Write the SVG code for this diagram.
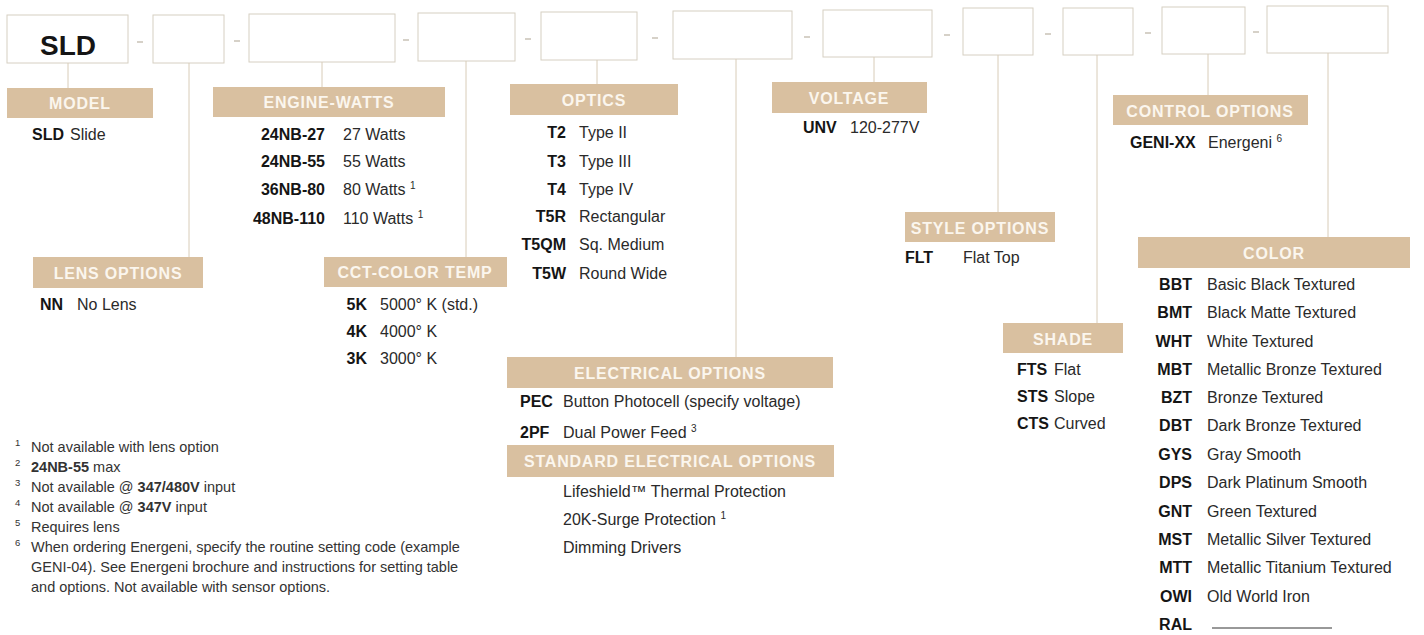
<svg xmlns="http://www.w3.org/2000/svg" width="1424" height="635" viewBox="0 0 1424 635">
<style>
.box{fill:#fff;stroke:#d6cfc2;stroke-width:1}
.dash{stroke:#c9c2b6;stroke-width:1.5}
.hdr{fill:#d9c0a0}
.ht{font-family:'Liberation Sans',Arial,sans-serif;font-weight:bold;font-size:16px;fill:#fbf6ee;letter-spacing:0.8px;text-anchor:middle}
.t{font-family:'Liberation Sans',Arial,sans-serif;font-size:16px;fill:#2a2a2a}
.c{font-family:'Liberation Sans',Arial,sans-serif;font-size:16px;font-weight:bold;fill:#151515}
.e{text-anchor:end}
.sup{font-size:10px}
.fn{font-family:'Liberation Sans',Arial,sans-serif;font-size:14.5px;fill:#333}
.fs{font-family:'Liberation Sans',Arial,sans-serif;font-size:9.5px;fill:#333}
.con line{stroke:#d8ccb8;stroke-width:1}
</style>
<rect width="1424" height="635" fill="#fff"/>

<g id="boxes">
<rect class="box" x="7" y="15" width="121" height="48"/>
<text x="68" y="55" font-family="'Liberation Sans',Arial,sans-serif" font-weight="bold" font-size="28" fill="#151515" text-anchor="middle">SLD</text>
<rect class="box" x="153" y="15" width="71" height="48"/>
<rect class="box" x="249" y="14" width="146" height="48"/>
<rect class="box" x="418" y="13" width="97" height="48"/>
<rect class="box" x="541" y="12" width="96" height="48"/>
<rect class="box" x="673" y="11" width="119" height="48"/>
<rect class="box" x="823" y="10" width="109" height="47"/>
<rect class="box" x="963" y="8" width="70" height="47"/>
<rect class="box" x="1063" y="8" width="70" height="47"/>
<rect class="box" x="1162" y="7" width="83" height="47"/>
<rect class="box" x="1267" y="6" width="121" height="47"/>
<line class="dash" x1="137" y1="42" x2="143" y2="42"/>
<line class="dash" x1="234" y1="41" x2="240" y2="41"/>
<line class="dash" x1="403" y1="40" x2="409" y2="40"/>
<line class="dash" x1="525" y1="39" x2="531" y2="39"/>
<line class="dash" x1="652" y1="38" x2="658" y2="38"/>
<line class="dash" x1="804" y1="37" x2="810" y2="37"/>
<line class="dash" x1="944" y1="35" x2="950" y2="35"/>
<line class="dash" x1="1045" y1="34" x2="1051" y2="34"/>
<line class="dash" x1="1145" y1="33" x2="1151" y2="33"/>
<line class="dash" x1="1253" y1="32" x2="1259" y2="32"/>
</g>

<g class="con" id="connectors">
<line x1="68" y1="63" x2="68" y2="88"/>
<line x1="189" y1="63" x2="189" y2="257"/>
<line x1="322" y1="62" x2="322" y2="87"/>
<line x1="466" y1="61" x2="466" y2="257"/>
<line x1="597" y1="60" x2="597" y2="84"/>
<line x1="736" y1="59" x2="736" y2="357"/>
<line x1="874" y1="57" x2="874" y2="82"/>
<line x1="998" y1="55" x2="998" y2="212"/>
<line x1="1097" y1="55" x2="1097" y2="323"/>
<line x1="1208" y1="54" x2="1208" y2="95"/>
<line x1="1328" y1="53" x2="1328" y2="237"/>
</g>

<g id="model">
<rect class="hdr" x="7" y="88" width="146" height="30"/>
<text class="ht" x="80" y="109">MODEL</text>
<text class="c" x="32" y="140">SLD</text><text class="t" x="70" y="140">Slide</text>
</g>

<g id="lens">
<rect class="hdr" x="33" y="257" width="170" height="31"/>
<text class="ht" x="118" y="279">LENS OPTIONS</text>
<text class="c" x="40" y="310">NN</text><text class="t" x="77" y="310">No Lens</text>
</g>

<g id="engine">
<rect class="hdr" x="213" y="87" width="232" height="30"/>
<text class="ht" x="329" y="108">ENGINE-WATTS</text>
<text class="c e" x="325" y="140">24NB-27</text><text class="t" x="343" y="140">27 Watts</text>
<text class="c e" x="325" y="167">24NB-55</text><text class="t" x="343" y="167">55 Watts</text>
<text class="c e" x="325" y="195">36NB-80</text><text class="t" x="343" y="195">80 Watts <tspan class="sup" dy="-6">1</tspan></text>
<text class="c e" x="325" y="224">48NB-110</text><text class="t" x="343" y="224">110 Watts <tspan class="sup" dy="-6">1</tspan></text>
</g>

<g id="cct">
<rect class="hdr" x="324" y="257" width="183" height="30"/>
<text class="ht" x="415" y="278">CCT-COLOR TEMP</text>
<text class="c e" x="367" y="310">5K</text><text class="t" x="380" y="310">5000° K (std.)</text>
<text class="c e" x="367" y="337">4K</text><text class="t" x="380" y="337">4000° K</text>
<text class="c e" x="367" y="364">3K</text><text class="t" x="380" y="364">3000° K</text>
</g>

<g id="optics">
<rect class="hdr" x="510" y="84" width="168" height="31"/>
<text class="ht" x="594" y="106">OPTICS</text>
<text class="c e" x="566" y="138">T2</text><text class="t" x="579" y="138">Type II</text>
<text class="c e" x="566" y="167">T3</text><text class="t" x="579" y="167">Type III</text>
<text class="c e" x="566" y="195">T4</text><text class="t" x="579" y="195">Type IV</text>
<text class="c e" x="566" y="222">T5R</text><text class="t" x="579" y="222">Rectangular</text>
<text class="c e" x="566" y="250">T5QM</text><text class="t" x="579" y="250">Sq. Medium</text>
<text class="c e" x="566" y="279">T5W</text><text class="t" x="579" y="279">Round Wide</text>
</g>

<g id="electrical">
<rect class="hdr" x="507" y="357" width="326" height="31"/>
<text class="ht" x="670" y="379">ELECTRICAL OPTIONS</text>
<text class="c" x="520" y="407">PEC</text><text class="t" x="563" y="407">Button Photocell (specify voltage)</text>
<text class="c" x="520" y="438">2PF</text><text class="t" x="563" y="438">Dual Power Feed <tspan class="sup" dy="-6">3</tspan></text>
</g>

<g id="standard">
<rect class="hdr" x="507" y="445" width="327" height="32"/>
<text class="ht" x="670" y="467">STANDARD ELECTRICAL OPTIONS</text>
<text class="t" x="563" y="497">Lifeshield™ Thermal Protection</text>
<text class="t" x="563" y="525">20K-Surge Protection <tspan class="sup" dy="-6">1</tspan></text>
<text class="t" x="563" y="553">Dimming Drivers</text>
</g>

<g id="voltage">
<rect class="hdr" x="772" y="82" width="155" height="31"/>
<text class="ht" x="849" y="104">VOLTAGE</text>
<text class="c" x="803" y="133">UNV</text><text class="t" x="850" y="133">120-277V</text>
</g>

<g id="style">
<rect class="hdr" x="905" y="212" width="150" height="30"/>
<text class="ht" x="980" y="234">STYLE OPTIONS</text>
<text class="c" x="905" y="263">FLT</text><text class="t" x="963" y="263">Flat Top</text>
</g>

<g id="shade">
<rect class="hdr" x="1003" y="323" width="120" height="30"/>
<text class="ht" x="1063" y="345">SHADE</text>
<text class="c" x="1017" y="375">FTS</text><text class="t" x="1054" y="375">Flat</text>
<text class="c" x="1017" y="402">STS</text><text class="t" x="1054" y="402">Slope</text>
<text class="c" x="1017" y="429">CTS</text><text class="t" x="1054" y="429">Curved</text>
</g>

<g id="control">
<rect class="hdr" x="1113" y="95" width="195" height="30"/>
<text class="ht" x="1210" y="117">CONTROL OPTIONS</text>
<text class="c" x="1130" y="148">GENI-XX</text><text class="t" x="1208" y="148">Energeni <tspan class="sup" dy="-6">6</tspan></text>
</g>

<g id="color">
<rect class="hdr" x="1138" y="237" width="272" height="31"/>
<text class="ht" x="1274" y="259">COLOR</text>
<text class="c e" x="1192" y="290">BBT</text><text class="t" x="1207" y="290">Basic Black Textured</text>
<text class="c e" x="1192" y="318">BMT</text><text class="t" x="1207" y="318">Black Matte Textured</text>
<text class="c e" x="1192" y="347">WHT</text><text class="t" x="1207" y="347">White Textured</text>
<text class="c e" x="1192" y="375">MBT</text><text class="t" x="1207" y="375">Metallic Bronze Textured</text>
<text class="c e" x="1192" y="403">BZT</text><text class="t" x="1207" y="403">Bronze Textured</text>
<text class="c e" x="1192" y="431">DBT</text><text class="t" x="1207" y="431">Dark Bronze Textured</text>
<text class="c e" x="1192" y="460">GYS</text><text class="t" x="1207" y="460">Gray Smooth</text>
<text class="c e" x="1192" y="488">DPS</text><text class="t" x="1207" y="488">Dark Platinum Smooth</text>
<text class="c e" x="1192" y="517">GNT</text><text class="t" x="1207" y="517">Green Textured</text>
<text class="c e" x="1192" y="545">MST</text><text class="t" x="1207" y="545">Metallic Silver Textured</text>
<text class="c e" x="1192" y="573">MTT</text><text class="t" x="1207" y="573">Metallic Titanium Textured</text>
<text class="c e" x="1192" y="602">OWI</text><text class="t" x="1207" y="602">Old World Iron</text>
<text class="c e" x="1192" y="630">RAL</text>
<line x1="1212" y1="628" x2="1332" y2="628" stroke="#333" stroke-width="1"/>
</g>

<g id="footnotes">
<text class="fs" x="15" y="446">1</text><text class="fn" x="31" y="452">Not available with lens option</text>
<text class="fs" x="15" y="466">2</text><text class="fn" x="31" y="472"><tspan font-weight="bold">24NB-55</tspan> max</text>
<text class="fs" x="15" y="486">3</text><text class="fn" x="31" y="492">Not available @ <tspan font-weight="bold">347/480V</tspan> input</text>
<text class="fs" x="15" y="506">4</text><text class="fn" x="31" y="512">Not available @ <tspan font-weight="bold">347V</tspan> input</text>
<text class="fs" x="15" y="526">5</text><text class="fn" x="31" y="532">Requires lens</text>
<text class="fs" x="15" y="546">6</text><text class="fn" x="31" y="552">When ordering Energeni, specify the routine setting code (example</text>
<text class="fn" x="31" y="572">GENI-04). See Energeni brochure and instructions for setting table</text>
<text class="fn" x="31" y="592">and options. Not available with sensor options.</text>
</g>
</svg>
